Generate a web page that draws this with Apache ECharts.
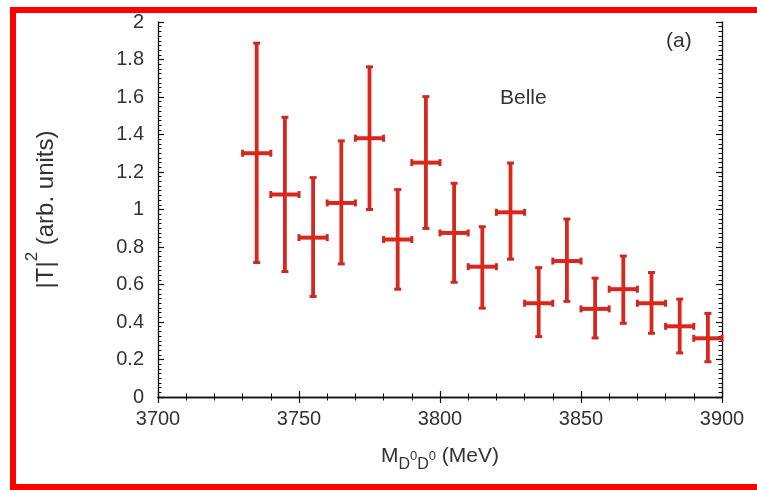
<!DOCTYPE html>
<html>
<head>
<meta charset="utf-8">
<script src="https://cdn.jsdelivr.net/npm/echarts@6/dist/echarts.min.js"></script>
<style>html,body{margin:0;padding:0;background:#fff}#c{width:757px;height:490px}</style>
</head>
<body>
<div id="c"></div>
<script>
// Data
const massCenters = [3735, 3745, 3755, 3765, 3775, 3785, 3795, 3805, 3815, 3825, 3835, 3845, 3855, 3865, 3875, 3885, 3895];
const tValues     = [1.30, 1.08, 0.85, 1.035, 1.38, 0.84, 1.25, 0.875, 0.695, 0.985, 0.50, 0.725, 0.47, 0.575, 0.50, 0.377, 0.313];
const tLow        = [0.717, 0.669, 0.536, 0.71, 1.00, 0.575, 0.899, 0.612, 0.474, 0.735, 0.322, 0.51, 0.315, 0.393, 0.34, 0.235, 0.188];
const tHigh       = [1.887, 1.492, 1.17, 1.366, 1.761, 1.106, 1.602, 1.14, 0.908, 1.248, 0.69, 0.949, 0.634, 0.752, 0.664, 0.522, 0.446];
const binHalf     = 5;
const xTicks = [3700, 3750, 3800, 3850, 3900];
const yTicks = [0, 0.2, 0.4, 0.6, 0.8, 1, 1.2, 1.4, 1.6, 1.8, 2];

const data = massCenters.map((m, i) => [m, tValues[i], tLow[i], tHigh[i], m - binHalf, m + binHalf]);

const RED = '#d8281d';
const TXT = '#333333';
const FONT = 'Liberation Sans, Arial, sans-serif';

const chart = echarts.init(document.getElementById('c'), null, {renderer: 'canvas'});

function renderItem(params, api) {
  const x = api.value(0), y = api.value(1), lo = api.value(2), hi = api.value(3);
  const xl = api.value(4), xh = api.value(5);
  const pLo = api.coord([x, lo]);
  const pHi = api.coord([x, hi]);
  const pL = api.coord([xl, y]);
  const pR = api.coord([xh, y]);
  const cap = 3.5;
  const vStyle = {stroke: RED, lineWidth: 3.8, fill: null};
  const hStyle = {stroke: RED, lineWidth: 4, fill: null};
  const cStyle = {stroke: '#c92a22', lineWidth: 3, fill: null};
  return {
    type: 'group',
    children: [
      {type: 'line', shape: {x1: pLo[0], y1: pLo[1], x2: pHi[0], y2: pHi[1]}, style: vStyle},
      {type: 'line', shape: {x1: pL[0], y1: pL[1], x2: pR[0], y2: pR[1]}, style: hStyle},
      {type: 'line', shape: {x1: pHi[0] - cap, y1: pHi[1], x2: pHi[0] + cap, y2: pHi[1]}, style: cStyle},
      {type: 'line', shape: {x1: pLo[0] - cap, y1: pLo[1], x2: pLo[0] + cap, y2: pLo[1]}, style: cStyle},
      {type: 'line', shape: {x1: pL[0], y1: pL[1] - cap, x2: pL[0], y2: pL[1] + cap}, style: cStyle},
      {type: 'line', shape: {x1: pR[0], y1: pR[1] - cap, x2: pR[0], y2: pR[1] + cap}, style: cStyle}
    ]
  };
}

const axisLineStyle = {show: true, lineStyle: {color: '#111', width: 1.3}};
const tickStyle = {show: true, inside: true, length: 6, lineStyle: {color: '#111', width: 1.2}};
const minorStyle = (n) => ({show: true, splitNumber: n, length: 3.5, lineStyle: {color: '#111', width: 1}});

const option = {
  backgroundColor: '#ffffff',
  animation: false,
  grid: {left: 158, right: 35, top: 22, bottom: 93, containLabel: false},
  xAxis: [
    {
      type: 'value', min: 3700, max: 3900, interval: 50,
      axisLine: axisLineStyle,
      axisTick: tickStyle,
      minorTick: minorStyle(5),
      splitLine: {show: false},
      axisLabel: {color: TXT, fontSize: 20, fontFamily: FONT, margin: 12,
        formatter: v => (xTicks.indexOf(v) >= 0 ? String(v) : '')},
      name: '{m|M}{sub|D}{s0|0}{sub|D}{s0|0}{m| (MeV)}',
      nameLocation: 'middle', nameGap: 42,
      nameTextStyle: {
        color: TXT, fontFamily: FONT,
        rich: {
          m: {fontSize: 21, fontFamily: FONT, color: TXT, lineHeight: 34, verticalAlign: 'middle'},
          sub: {fontSize: 16, fontFamily: FONT, color: TXT, verticalAlign: 'bottom', lineHeight: 34},
          s0: {fontSize: 13, fontFamily: FONT, color: TXT, verticalAlign: 'middle', lineHeight: 34}
        }
      }
    },
    {
      type: 'value', position: 'top', min: 3700, max: 3900, interval: 50,
      axisLine: axisLineStyle,
      axisTick: tickStyle,
      minorTick: minorStyle(5),
      splitLine: {show: false}, axisLabel: {show: false}
    }
  ],
  yAxis: [
    {
      type: 'value', min: 0, max: 2, interval: 0.2,
      axisLine: axisLineStyle,
      axisTick: tickStyle,
      minorTick: minorStyle(8),
      splitLine: {show: false},
      axisLabel: {color: TXT, fontSize: 20, fontFamily: FONT, margin: 14,
        formatter: v => {
          const idx = yTicks.findIndex(t => Math.abs(t - v) < 1e-9);
          return idx >= 0 ? String(yTicks[idx]) : '';
        }},
      name: '{a||T|}{sup|2}{a| (arb. units)}',
      nameLocation: 'middle', nameGap: 100, nameRotate: 90,
      nameTextStyle: {
        color: TXT, fontFamily: FONT,
        rich: {
          a: {fontSize: 24, fontFamily: FONT, color: TXT, lineHeight: 34, verticalAlign: 'bottom'},
          sup: {fontSize: 17, fontFamily: FONT, color: TXT, lineHeight: 34, verticalAlign: 'top'}
        }
      }
    },
    {
      type: 'value', position: 'right', min: 0, max: 2, interval: 0.2,
      axisLine: axisLineStyle,
      axisTick: tickStyle,
      minorTick: minorStyle(8),
      splitLine: {show: false}, axisLabel: {show: false}
    }
  ],
  series: [
    {
      type: 'custom',
      xAxisIndex: 0, yAxisIndex: 0,
      renderItem: renderItem,
      encode: {x: [0, 4, 5], y: [1, 2, 3]},
      data: data,
      clip: false,
      z: 5
    }
  ],
  graphic: [
    {type: 'text', left: 500, top: 88, style: {text: 'Belle', fontSize: 21, fontFamily: FONT, fill: TXT}},
    {type: 'text', left: 666, top: 31, style: {text: '(a)', fontSize: 21, fontFamily: FONT, fill: TXT}},
    {type: 'rect', shape: {x: 13, y: 10, width: 770, height: 477},
      style: {fill: null, stroke: '#ff0000', lineWidth: 6}, z: 100}
  ]
};

chart.setOption(option);
</script>
</body>
</html>
